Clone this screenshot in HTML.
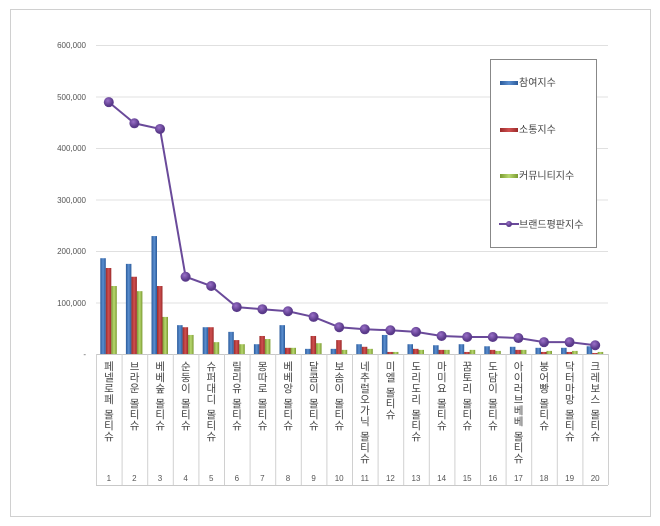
<!DOCTYPE html><html><head><meta charset="utf-8"><style>
body{margin:0;background:#fff;width:660px;height:526px;overflow:hidden;font-family:"Liberation Sans","Noto Sans CJK KR",sans-serif}
.lbl{position:absolute;top:362px;width:26px;text-align:center;font-size:10.5px;color:#444;line-height:11px;font-family:"Liberation Sans","Noto Sans CJK KR",sans-serif}
.lbl span{display:block;height:11px}
.lbl .gap{height:4px}
</style></head><body>
<div style="position:absolute;left:10px;top:9px;width:639px;height:506px;border:1px solid #d0d0d0"></div>
<svg width="660" height="526" style="position:absolute;left:0;top:0" font-family="Liberation Sans, Noto Sans CJK KR, sans-serif">
<defs>
<linearGradient id="b" x1="0" x2="1"><stop offset="0" stop-color="#2a5a9a"/><stop offset=".5" stop-color="#5b8fd0"/><stop offset="1" stop-color="#2a5a9a"/></linearGradient>
<linearGradient id="r" x1="0" x2="1"><stop offset="0" stop-color="#9a2a2a"/><stop offset=".5" stop-color="#d05050"/><stop offset="1" stop-color="#9a2a2a"/></linearGradient>
<linearGradient id="g" x1="0" x2="1"><stop offset="0" stop-color="#7a9a30"/><stop offset=".5" stop-color="#b8d870"/><stop offset="1" stop-color="#7a9a30"/></linearGradient>
<radialGradient id="p" cx=".4" cy=".35"><stop offset="0" stop-color="#9a70c8"/><stop offset="1" stop-color="#5a3a8a"/></radialGradient>
</defs>
<g stroke="#e0e0e0" stroke-width="1">
<line x1="96" x2="608" y1="45.5" y2="45.5"/><line x1="96" x2="608" y1="97" y2="97"/><line x1="96" x2="608" y1="148.5" y2="148.5"/><line x1="96" x2="608" y1="200" y2="200"/><line x1="96" x2="608" y1="251.5" y2="251.5"/><line x1="96" x2="608" y1="303" y2="303"/>
</g>
<g font-size="8" fill="#555" text-anchor="end">
<text x="86" y="48">600,000</text><text x="86" y="100">500,000</text><text x="86" y="151">400,000</text><text x="86" y="203">300,000</text><text x="86" y="254">200,000</text><text x="86" y="306">100,000</text><text x="86" y="357">-</text>
</g>
<g id="bars"></g>
<line x1="96" x2="608" y1="354.5" y2="354.5" stroke="#c8c8c8"/>
<line x1="96" x2="608" y1="485.5" y2="485.5" stroke="#c8c8c8"/>
<g id="seps" stroke="#d0d0d0"></g>
<polyline id="ln" fill="none" stroke="#6a4a9a" stroke-width="2"/>
<g id="dots"></g>
<g id="nums" font-size="8" fill="#555" text-anchor="middle"></g>
<rect x="490.5" y="59.5" width="106" height="188" fill="#fff" stroke="#888"/>
<rect x="500" y="81" width="18" height="4" fill="url(#b)"/><text x="519" y="86" font-size="10" fill="#444">참여지수</text>
<rect x="500" y="128" width="18" height="4" fill="url(#r)"/><text x="519" y="133" font-size="10" fill="#444">소통지수</text>
<rect x="500" y="174" width="18" height="4" fill="url(#g)"/><text x="519" y="179" font-size="10" fill="#444">커뮤니티지수</text>
<line x1="499" x2="519" y1="224" y2="224" stroke="#6a4a9a" stroke-width="2"/><circle cx="509" cy="224" r="3" fill="url(#p)"/><text x="519" y="228" font-size="10" fill="#444">브랜드평판지수</text>
</svg>
<div id="labels"></div>
<script>
var B=[186,175,229,56,52,43,19,56,10,10,19,37,19,17,19,15,14,12,12,15],
R=[167,150,132,52,52,27,35,12,35,27,14,4,10,8,4,8,8,4,4,2],
G=[132,122,72,37,23,19,29,12,21,8,10,4,8,8,8,6,8,6,6,4],
P=[489,448,437,150,132,91,87,83,72,52,48,46,43,35,33,33,31,23,23,17],
N=["페넬로페 몰티슈","브라운 몰티슈","베베숲 몰티슈","순둥이 몰티슈","슈퍼대디 몰티슈","릴리유 몰티슈","몽따로 몰티슈","베베앙 몰티슈","달콤이 몰티슈","보솜이 몰티슈","네추럴오가닉 몰티슈","미엘 몰티슈","도리도리 몰티슈","마미요 몰티슈","꿈토리 몰티슈","도담이 몰티슈","아이러브베베 몰티슈","붕어빵 몰티슈","닥터마망 몰티슈","크레보스 몰티슈"];
var ns="http://www.w3.org/2000/svg",W=25.6,X0=96,Y0=354,S=0.515;
function el(t,a,p){var e=document.createElementNS(ns,t);for(var k in a)e.setAttribute(k,a[k]);document.getElementById(p).appendChild(e);}
var pts=[],lab="";
for(var i=0;i<20;i++){var x=X0+i*W,c=x+W/2;
[[B,"b",-8.5],[R,"r",-3],[G,"g",2.5]].forEach(function(s){var h=s[0][i]*S;el("rect",{x:c+s[2],y:Y0-h,width:5.5,height:h,fill:"url(#"+s[1]+")"},"bars");});
el("line",{x1:x+.5,x2:x+.5,y1:354,y2:485},"seps");
var y=Y0-P[i]*S;pts.push(c+","+y);
var t=document.createElementNS(ns,"text");t.setAttribute("x",c);t.setAttribute("y",481);t.textContent=i+1;document.getElementById("nums").appendChild(t);
var h="";N[i].split("").forEach(function(ch){h+= ch==" "?'<span class="gap"></span>':'<span>'+ch+'</span>';});
lab+='<div class="lbl" style="left:'+(x)+'px">'+h+'</div>';}
el("line",{x1:608.5,x2:608.5,y1:354,y2:485},"seps");
document.getElementById("ln").setAttribute("points",pts.join(" "));
pts.forEach(function(p){var a=p.split(",");el("circle",{cx:a[0],cy:a[1],r:5,fill:"url(#p)"},"dots");});
document.getElementById("labels").innerHTML=lab;
</script>
</body></html>
